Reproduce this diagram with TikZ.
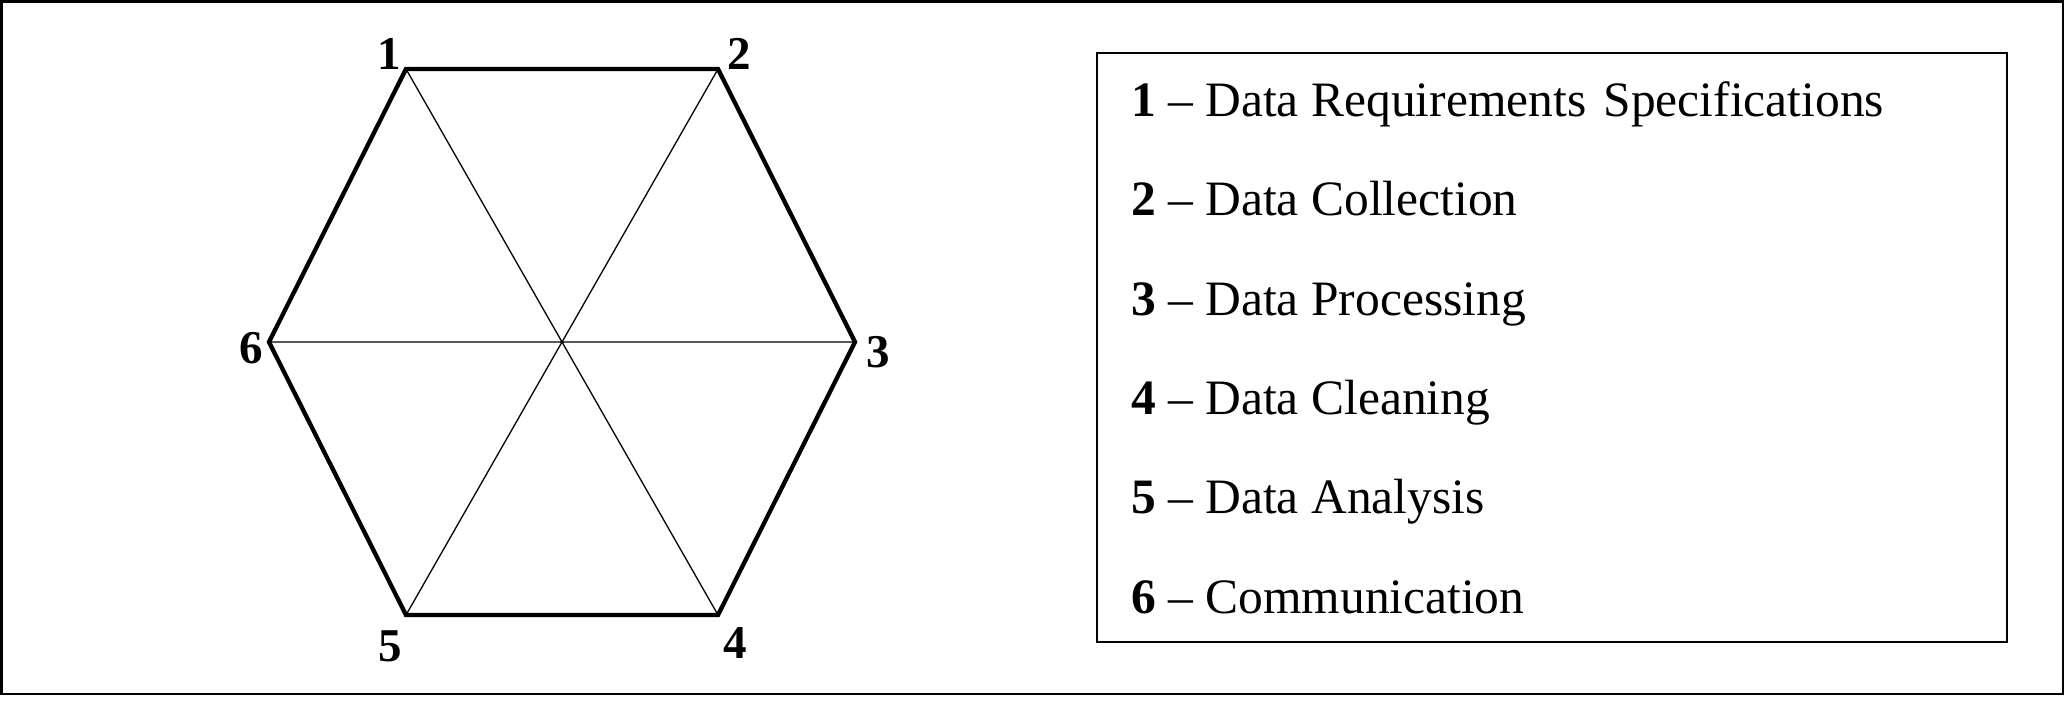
\documentclass[tikz,border=0pt]{standalone}
\usepackage{fontspec}
\setmainfont{Liberation Serif}
\usetikzlibrary{positioning,calc}

\begin{document}
\begin{tikzpicture}[x=1pt, y=-1pt,
                num-label/.style={font=\fontsize{47}{56}\selectfont\bfseries, inner sep=0pt},
                item-text/.style={font=\fontsize{49.5}{59}\selectfont, anchor=base west, inner sep=0pt},
                hex-edge/.style={line width=4.3pt, line join=miter},
                hex-spoke/.style={line width=1.3pt}]
                \useasboundingbox (0,0) rectangle (2066,703);
                \draw[line width=2.7pt] (1.5,1.5) rectangle (2063,694);
                % hexagon corners
                \coordinate (c1) at (406,69);
                \coordinate (c2) at (718,69);
                \coordinate (c3) at (855,342);
                \coordinate (c4) at (718,615);
                \coordinate (c5) at (406,615);
                \coordinate (c6) at (269,342);
                \draw[hex-spoke] (c1) -- (c4) (c2) -- (c5) (c3) -- (c6);
                \draw[hex-edge] (c1) -- (c2) -- (c3) -- (c4) -- (c5) -- (c6) -- cycle;
                \node[num-label] (n1) at (389,54) {1};
                \node[num-label] (n2) at (739.5,53.5) {2};
                \node[num-label] (n3) at (878,352) {3};
                \node[num-label] (n4) at (735.5,643.5) {4};
                \node[num-label] (n5) at (390,646) {5};
                \node[num-label] (n6) at (251,348.5) {6};
                % legend
                \node[draw, line width=1.7pt, minimum width=910pt, minimum height=589pt, inner sep=0pt] (legend) at (1552,347.5) {};
                \foreach \i/\txt [count=\k] in {1/Data Requirements\hspace{0.35em}Specifications, 2/Data Collection, 3/Data Processing,
                        4/Data Cleaning, 5/Data Analysis, 6/Communication}
                    \node[item-text] (item\k) at (1131,{116.7+99.3*(\k-1)}) {\textbf{\i} -- \txt};
            \end{tikzpicture}
\end{document}
